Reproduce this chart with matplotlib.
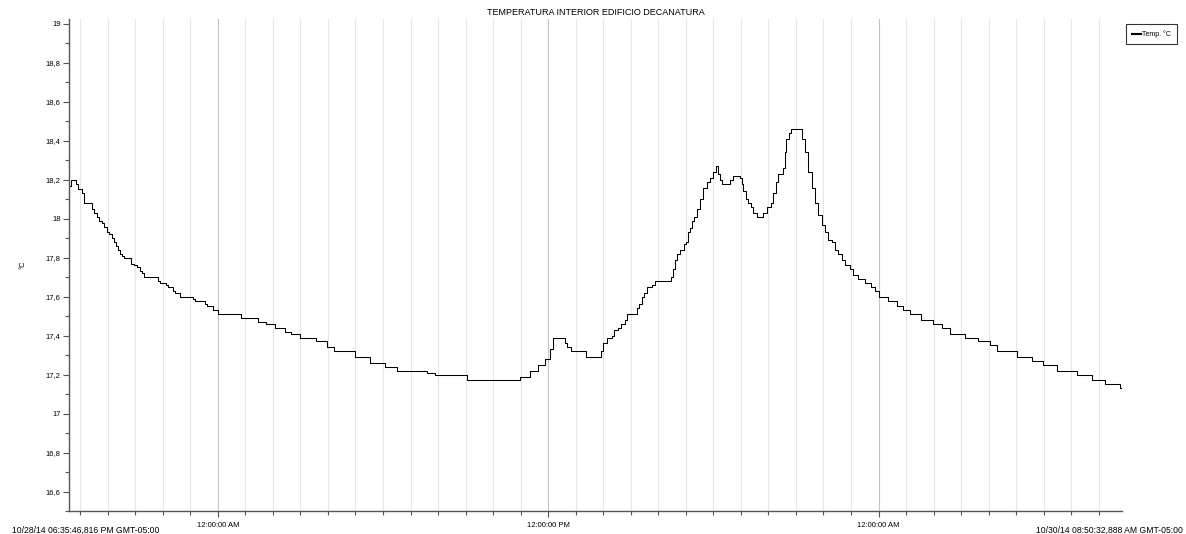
import matplotlib
matplotlib.use('Agg')
import matplotlib.pyplot as plt
import matplotlib.dates as mdates
import numpy as np
import pandas as pd

plt.rcParams['font.family'] = ['Liberation Sans', 'DejaVu Sans']

# logger readings: hours since first sample, temperature in degC
start = pd.Timestamp('2014-10-28 18:35:46.816')
end = pd.Timestamp('2014-10-30 08:50:32.888')

hours = [0.00, 0.07, 0.25, 0.34, 0.46, 0.56, 0.85, 0.92, 1.02, 1.10,
         1.19, 1.28, 1.37, 1.45, 1.55, 1.62, 1.70, 1.77, 1.85, 1.94,
         2.01, 2.25, 2.37, 2.46, 2.58, 2.66, 2.74, 3.22, 3.31, 3.51,
         3.58, 3.79, 3.85, 4.03, 4.52, 4.58, 4.94, 5.00, 5.23, 5.41,
         6.25, 6.87, 7.15, 7.48, 7.85, 8.05, 8.39, 8.97, 9.36, 9.64,
         10.39, 10.93, 11.48, 11.90, 12.99, 13.29, 14.45, 16.38, 16.75, 17.05,
         17.29, 17.47, 17.57, 17.59, 18.02, 18.10, 18.22, 18.78, 19.31, 19.41,
         19.53, 19.71, 19.80, 19.95, 20.05, 20.20, 20.28, 20.64, 20.72, 20.80,
         20.89, 21.01, 21.17, 21.29, 21.86, 21.93, 22.01, 22.10, 22.19, 22.34,
         22.41, 22.49, 22.56, 22.64, 22.70, 22.80, 22.92, 23.04, 23.16, 23.28,
         23.38, 23.49, 23.58, 23.65, 23.71, 24.01, 24.11, 24.37, 24.43, 24.49,
         24.59, 24.68, 24.76, 24.86, 24.98, 25.20, 25.34, 25.49, 25.58, 25.68,
         25.76, 25.94, 26.00, 26.04, 26.16, 26.21, 26.61, 26.73, 26.85, 26.98,
         27.10, 27.22, 27.34, 27.46, 27.58, 27.71, 27.83, 27.95, 28.07, 28.19,
         28.37, 28.49, 28.67, 28.91, 29.12, 29.28, 29.43, 29.76, 30.06, 30.31,
         30.53, 30.94, 31.40, 31.70, 32.00, 32.55, 33.03, 33.46, 33.70, 34.42,
         34.97, 35.39, 35.88, 36.60, 37.15, 37.63, 38.18, 38.25]

temps = [18.17, 18.20, 18.18, 18.15, 18.13, 18.08, 18.05, 18.03, 18.01, 17.99,
         17.98, 17.96, 17.93, 17.92, 17.90, 17.88, 17.86, 17.84, 17.82, 17.81,
         17.80, 17.77, 17.76, 17.75, 17.73, 17.72, 17.70, 17.68, 17.67, 17.66,
         17.65, 17.63, 17.62, 17.60, 17.59, 17.58, 17.56, 17.55, 17.53, 17.51,
         17.49, 17.47, 17.46, 17.44, 17.42, 17.41, 17.39, 17.37, 17.34, 17.32,
         17.29, 17.26, 17.24, 17.22, 17.21, 17.20, 17.17, 17.19, 17.22, 17.25,
         17.28, 17.33, 17.37, 17.39, 17.36, 17.34, 17.32, 17.29, 17.32, 17.36,
         17.39, 17.40, 17.43, 17.44, 17.46, 17.48, 17.51, 17.54, 17.56, 17.60,
         17.62, 17.65, 17.66, 17.68, 17.70, 17.74, 17.79, 17.82, 17.84, 17.87,
         17.88, 17.93, 17.95, 17.99, 18.01, 18.05, 18.10, 18.16, 18.19, 18.21,
         18.24, 18.27, 18.23, 18.20, 18.18, 18.20, 18.22, 18.21, 18.18, 18.14,
         18.10, 18.08, 18.06, 18.03, 18.01, 18.03, 18.06, 18.08, 18.13, 18.19,
         18.23, 18.26, 18.34, 18.41, 18.44, 18.46, 18.41, 18.34, 18.24, 18.16,
         18.08, 18.02, 17.97, 17.93, 17.89, 17.88, 17.84, 17.82, 17.79, 17.76,
         17.74, 17.71, 17.69, 17.67, 17.65, 17.63, 17.60, 17.58, 17.55, 17.53,
         17.51, 17.48, 17.46, 17.44, 17.41, 17.39, 17.37, 17.35, 17.32, 17.29,
         17.27, 17.25, 17.22, 17.20, 17.17, 17.15, 17.13, 17.13]

times = start + pd.to_timedelta(hours, unit='h')

fig = plt.figure(figsize=(11.86, 5.34), dpi=100)
ax = fig.add_axes([0.0582, 0.0431, 0.8878, 0.9213])

ax.plot(times, temps, drawstyle='steps-post', color='black', lw=0.75, label='Temp. °C')

ax.set_xlim(start, end)
ax.set_ylim(16.522, 19.025)

ax.xaxis.set_major_locator(mdates.HourLocator(byhour=[0, 12]))
ax.xaxis.set_minor_locator(mdates.HourLocator())
ax.xaxis.set_major_formatter(mdates.DateFormatter('%I:%M:%S %p'))
ax.grid(True, axis='x', which='minor', color='#e6e6e6', lw=0.8)
ax.grid(True, axis='x', which='major', color='#c4c4c4', lw=0.8)
ax.set_axisbelow(True)

yt = np.arange(16.6, 19.01, 0.2)
ax.set_yticks(yt)
ax.set_yticks(np.arange(16.5, 19.01, 0.1), minor=True)
ax.set_yticklabels(['{:g}'.format(round(v, 1)).replace('.', ',') for v in yt])

ax.tick_params(axis='both', which='major', labelsize=5.5, length=4, width=0.8, color='#555555', pad=2)
ax.tick_params(axis='both', which='minor', length=3, width=0.8, color='#555555')
ax.tick_params(axis='x', which='major', pad=4)

for s in ['top', 'right']:
    ax.spines[s].set_visible(False)
for s in ['left', 'bottom']:
    ax.spines[s].set_color('#555555')
    ax.spines[s].set_linewidth(1.0)

ax.set_ylabel('°C', fontsize=5.5, labelpad=14)
ax.set_title('TEMPERATURA INTERIOR EDIFICIO DECANATURA', fontsize=6.5, pad=3)

leg = ax.legend(loc='upper left', bbox_to_anchor=(1126 / 1186, 1 - 24 / 534), bbox_transform=fig.transFigure,
                fontsize=5, frameon=True, fancybox=False, handlelength=1.2, handletextpad=0.2,
                borderpad=0.9, borderaxespad=0)
leg.get_frame().set_edgecolor('black')
leg.get_frame().set_linewidth(0.8)
for h in leg.get_lines():
    h.set_linewidth(1.5)

fig.text(12 / 1186, 1 - 530 / 534, '10/28/14 06:35:46,816 PM GMT-05:00', fontsize=6.2, va='center', ha='left')
fig.text(1183 / 1186, 1 - 530 / 534, '10/30/14 08:50:32,888 AM GMT-05:00', fontsize=6.2, va='center', ha='right')

fig.savefig('out.png', dpi=100)
